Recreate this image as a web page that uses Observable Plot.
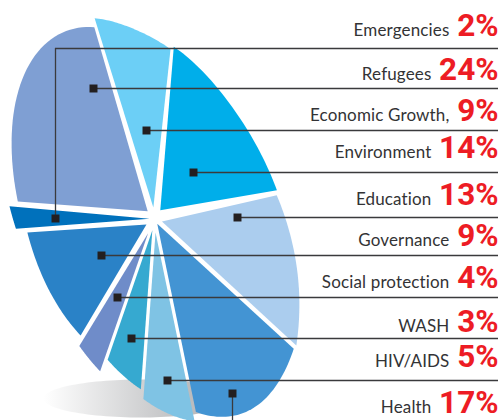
<!DOCTYPE html>
<html>
<head>
<meta charset="utf-8">
<script src="https://cdn.jsdelivr.net/npm/d3@7"></script>
<script src="https://cdn.jsdelivr.net/npm/@observablehq/plot@0.6"></script>
<style>
html,body{margin:0;padding:0;background:#fff;overflow:hidden}
svg{display:block}
.names text{letter-spacing:.15px}
</style>
</head>
<body>
<div id="chart"></div>
<script>
// Labelled values, in the order of the list at the right
const sectors = ["Emergencies","Refugees","Economic Growth,","Environment","Education","Governance","Social protection","WASH","HIV/AIDS","Health"];
const percents = [2,24,9,14,13,9,4,3,5,17];

// Slices clockwise as they are drawn; the picture's slices are not true to the labels
const clockwise = ["Emergencies","Refugees","Economic Growth,","Environment","Education","Health","HIV/AIDS","WASH","Social protection","Governance"];
const drawnShare = [2.0,20.6,10.2,17,11.4,14,6.5,5,3.3,10];
const rimStart = [1.10,1.05,0.99,0.90,0.99,1.15,1.04,0.934,1.0,0.947];
const rimEnd   = [1.12,0.95,0.878,1.0,1.16,0.995,0.977,0.91,0.998,1.017];
const rimBulge = [0,0.085,-0.02,-0.04,0.015,0.04,0,0,0,0.01];
const apexPull = [5,10,11,10,8,6,14,12,16,10];
const sliceColors = ["#0071bc","#7f9fd3","#6ccff6","#00aeea","#abcdee","#4394d3","#7fc3e4","#36a9d0","#6f8cc9","#2a82c7"];

// Layout of the label list and of the leaders
const textBaseline = [36,80,121,158,205,246,288,332,367,413];
const leaderY = [48,88,130,172,217,255,297,338,380,393];
const markerX = [55,93,146,193,237,101,117,131,167,232];
const markerY = [218,88,130,172,217,255,297,338,380,393];

const rightEdge = 498;
const rimCentre = {x:153,y:212}, hub = {x:154,y:218};
const axisA = {x:-0.25*205,y:-0.97*205}, axisB = {x:0.97*125,y:-0.25*125};
const startTurn = 274/360, trim = 0.7/360;

function rimPoint(turn, reach){
  const t = turn*2*Math.PI;
  return {
    x: rimCentre.x + reach*(Math.cos(t)*axisA.x + Math.sin(t)*axisB.x),
    y: rimCentre.y + reach*(Math.cos(t)*axisA.y + Math.sin(t)*axisB.y)
  };
}
const outline = [];
let cum = startTurn;
const total = d3.sum(drawnShare);
clockwise.forEach((name,i)=>{
  const span = drawnShare[i]/total;
  const t0 = cum + trim, t1 = cum + span - trim;
  cum += span;
  const mid = rimPoint((t0+t1)/2,1);
  const dx = mid.x-rimCentre.x, dy = mid.y-rimCentre.y, len = Math.hypot(dx,dy);
  outline.push({name,x:hub.x+apexPull[i]*dx/len,y:hub.y+apexPull[i]*dy/len});
  for(let k=0;k<=40;k++){
    const s=k/40;
    const reach = rimStart[i]+(rimEnd[i]-rimStart[i])*s+rimBulge[i]*Math.sin(Math.PI*s);
    const p = rimPoint(t0+(t1-t0)*s,reach);
    outline.push({name,x:p.x,y:p.y});
  }
});

const shadow = d3.range(0,121).map(k=>{
  const t=k/120*2*Math.PI;
  return {x:140+97*Math.cos(t),y:398+19*Math.sin(t)};
});

const rows = sectors.map((name,i)=>({
  name,
  percent:percents[i],
  label:percents[i]+"%",
  base:textBaseline[i],
  ly:leaderY[i],
  mx:markerX[i],
  my:markerY[i],
  nameEnd:percents[i]>=10?431:449
}));

function defs(){
  const s=d3.create("svg:defs");
  const g=s.append("linearGradient").attr("id","shadowFade").attr("x1",0).attr("x2",1).attr("y1",0).attr("y2",0);
  g.append("stop").attr("offset",0).attr("stop-color","#ffffff");
  g.append("stop").attr("offset",0.75).attr("stop-color","#bbbcbe");
  return s.node();
}

const chart = Plot.plot({
  width:500,height:420,margin:0,
  x:{domain:[0,500],range:[0,500],axis:null},
  y:{domain:[0,420],range:[0,420],axis:null},
  color:{domain:clockwise,range:sliceColors},
  marks:[
    defs,
    Plot.line(shadow,{x:"x",y:"y",fill:"url(#shadowFade)",stroke:"none"}),
    Plot.line(outline,{x:"x",y:"y",z:"name",fill:"name",stroke:"none"}),
    Plot.ruleY(rows.filter(d=>d.name!=="Health"),{y:"ly",x1:"mx",x2:()=>rightEdge,stroke:"#3a3a3c",strokeWidth:1.3}),
    Plot.ruleX(rows.filter(d=>d.name==="Emergencies"),{x:"mx",y1:"ly",y2:"my",stroke:"#3a3a3c",strokeWidth:1.3}),
    Plot.ruleX(rows.filter(d=>d.name==="Health"),{x:"mx",y1:"my",y2:()=>420,stroke:"#3a3a3c",strokeWidth:1.3}),
    Plot.dot(rows,{x:"mx",y:"my",symbol:"square",r:4.5,fill:"#231f20",stroke:"none"}),
    Plot.text(rows,{x:"nameEnd",y:"base",text:"name",textAnchor:"end",lineAnchor:"bottom",dy:-1,fontFamily:"Lato",fontSize:17,fill:"#333335",className:"names"}),
    Plot.text(rows,{x:()=>rightEdge,y:"base",text:"label",textAnchor:"end",lineAnchor:"bottom",dy:-0.5,fontFamily:"Roboto",fontWeight:700,fontSize:31.5,fill:"#ed1c24"})
  ]
});
document.getElementById("chart").appendChild(chart);
</script>
</body>
</html>
